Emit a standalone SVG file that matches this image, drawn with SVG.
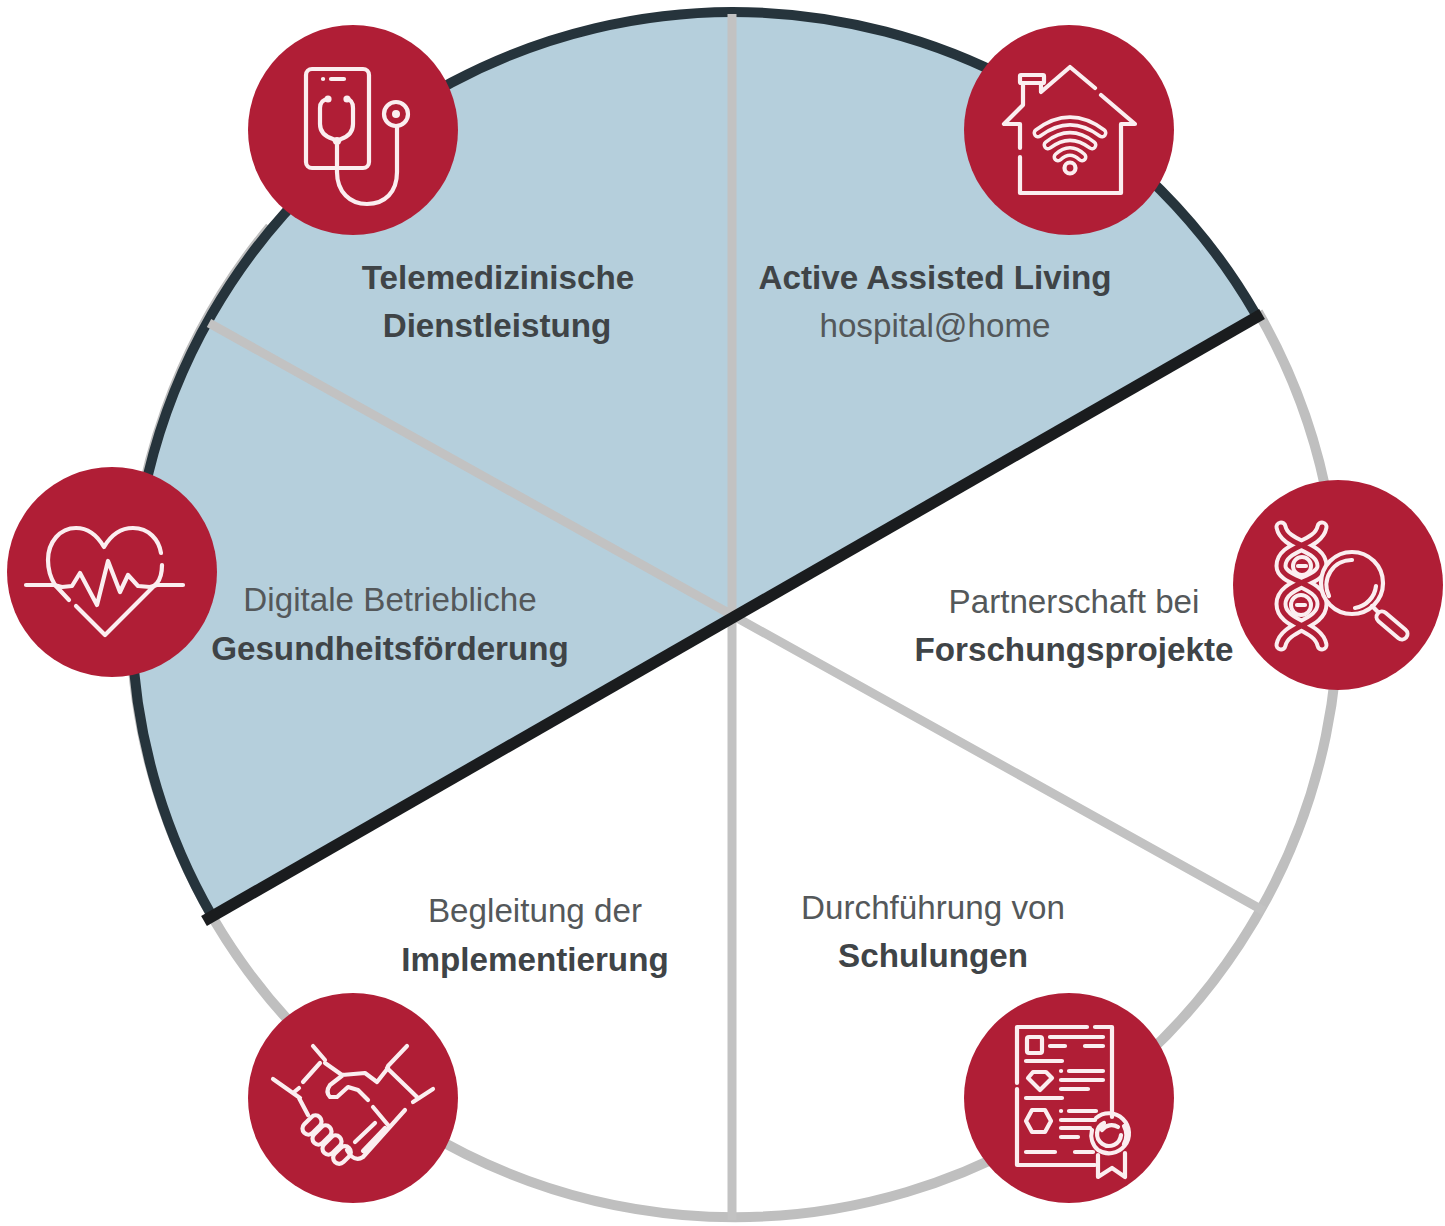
<svg xmlns="http://www.w3.org/2000/svg" width="1445" height="1226" viewBox="0 0 1445 1226">
<style>
.t{font-family:"Liberation Sans",Arial,sans-serif;font-size:33.2px;fill:#54585a;text-anchor:middle}
.b{font-weight:700;fill:#3f4447}
.n{fill:#b01e36}
.i{fill:none;stroke:#fbeef0;stroke-width:4.2;stroke-linecap:round;stroke-linejoin:round}
.w{fill:none;stroke:#fbeef0;stroke-width:13;stroke-linecap:round;stroke-linejoin:round}
.r{fill:none;stroke:#b01e36;stroke-width:5;stroke-linecap:round;stroke-linejoin:round}
.f{fill:#fbeef0}
</style>
<rect width="1445" height="1226" fill="#fff"/>
<g id="connectors">
<path d="M1258 312A604 604 0 1 1 270 227" fill="none" stroke="#bfbfbf" stroke-width="10"/>
<path d="M732 615L1255 313A604 604 0 0 0 732 12A603 603 0 0 0 212 916Z" fill="#b5cfdc"/>
<path d="M1255 313A604 604 0 0 0 732 12A603 603 0 0 0 212 916" fill="none" stroke="#26343c" stroke-width="10"/>
<path d="M732 615V14M732 615L209 323M732 615L1264 911M732 615V1220" fill="none" stroke="#c2c2c2" stroke-width="9"/>
<path d="M1262 314L204 921" fill="none" stroke="#1a1c1e" stroke-width="11.5"/>
</g>
<g id="node-telemedizin">
<circle class="n" cx="353" cy="130" r="105"/>
<rect class="i" x="306" y="69" width="63" height="99" rx="6"/>
<path class="i" d="M323 79h.1M331 79h13M328 99Q320 100 320 108V124Q320 135 333 139L337 142L341 139Q353 135 353 124V108Q353 100 347 99"/>
<circle class="f" cx="328" cy="99" r="3.6"/><circle class="f" cx="347" cy="99" r="3.6"/>
<circle class="f" cx="337" cy="141" r="4"/>
<path class="i" d="M337 145V172C337 192 350 204 367 204C385 204 397 192 397 172V127"/>
<circle class="i" cx="396" cy="114" r="12"/><circle class="f" cx="396" cy="114" r="4"/>
</g>
<g id="node-aal">
<circle class="n" cx="1069" cy="130" r="105"/>
<path class="i" d="M1095 88L1070 67L1041 92V83H1023V105L1004 124H1020V148M1020 157V193H1121V124H1135L1101 95"/>
<rect class="i" x="1020" y="75" width="24" height="8" rx="1"/>
<path class="w" d="M1038 133Q1070 109 1102 133M1048 145Q1070 128 1092 145M1058 157Q1070 146 1082 157" style="stroke-width:11"/>
<path class="r" d="M1038 133Q1070 109 1102 133M1048 145Q1070 128 1092 145M1058 157Q1070 146 1082 157" style="stroke-width:4"/>
<circle class="i" cx="1070" cy="168" r="5.5"/>
</g>
<g id="node-dbg">
<circle class="n" cx="112" cy="572" r="105"/>
<path class="i" d="M26 585H54L62 587L72 586L80 573L97 605L108 561L120 592L128 575L138 586L150 587L157 585H183"/>
<path class="i" d="M69 600L55 585C50 577 48 568 48 560C48 542 60 528 76 528C87 528 97 535 104 547C111 535 121 528 133 528C149 528 159 540 161 553M162 565C162 572 161 578 157 583L105 635L76 606"/>
</g>
<g id="node-forschung">
<circle class="n" cx="1338" cy="585" r="105"/>
<path class="w" d="M1281 527C1285 547 1322 545 1322 566C1322 582 1281 582 1281 604C1281 625 1318 625 1322 645M1322 527C1318 547 1281 545 1281 566C1281 582 1322 582 1322 604C1322 625 1285 625 1281 645"/>
<path class="r" d="M1281 527C1285 547 1322 545 1322 566C1322 582 1281 582 1281 604C1281 625 1318 625 1322 645M1322 527C1318 547 1281 545 1281 566C1281 582 1322 582 1322 604C1322 625 1285 625 1281 645"/>
<circle cx="1302" cy="566" r="9" fill="#b01e36" stroke="#fbeef0" stroke-width="4"/><path class="i" d="M1298 566h8"/>
<circle cx="1301" cy="605" r="10" fill="#b01e36" stroke="#fbeef0" stroke-width="4"/><path class="i" d="M1297 605h8"/>
<circle cx="1352" cy="583" r="31" fill="#b01e36" stroke="#fbeef0" stroke-width="4.2"/>
<path class="i" d="M1329 596A25 25 0 0 1 1352 560M1376 586A25 25 0 0 1 1355 608"/>
<path class="i" d="M1372 606L1380 614"/>
<path class="w" d="M1382 617L1402 634" style="stroke-width:15"/>
<path class="r" d="M1382 617L1402 634" style="stroke-width:7"/>
</g>
<g id="node-implementierung">
<circle class="n" cx="353" cy="1098" r="105"/>
<path class="i" d="M273 1079L300 1098M293 1093L299 1088M299 1098L308 1115M313 1046L325 1060M320 1063L303 1082M407 1046L388 1066M387 1068L417 1097M433 1089L413 1102"/>
<path class="i" d="M325 1063L342 1075L365 1073L377 1082L388 1068M343 1075L330 1085Q325 1092 330 1097H337L348 1087L358 1090L368 1100M373 1107L388 1125M405 1110L363 1157Q357 1161 351 1156L347 1150M375 1123L355 1142M385 1128L363 1151"/>
<g class="i">
<rect x="-11" y="-6" width="22" height="12" rx="6" transform="translate(312 1125) rotate(-45)"/>
<rect x="-11" y="-6" width="22" height="12" rx="6" transform="translate(322 1135) rotate(-45)"/>
<rect x="-11" y="-6" width="22" height="12" rx="6" transform="translate(332 1145) rotate(-45)"/>
<rect x="-10" y="-6" width="20" height="12" rx="6" transform="translate(342 1155) rotate(-45)"/>
</g>
</g>
<g id="node-schulungen">
<circle class="n" cx="1069" cy="1098" r="105"/>
<path class="i" d="M1087 1027H1017V1083M1017 1089V1165H1095M1095 1027H1112V1117"/>
<rect class="i" x="1027" y="1037" width="15" height="16" rx="2"/>
<path class="i" d="M1050 1037H1103M1050 1046H1065M1085 1046H1103M1026 1061H1062M1061 1071h.1M1069 1071H1103M1061 1080H1103M1061 1089H1088M1026 1098H1062M1061 1111h.1M1069 1111H1096M1061 1120H1095M1061 1128H1090M1061 1137H1078M1026 1152H1055M1075 1152H1093"/>
<path class="i" d="M1033 1072H1046L1052 1078L1040 1090L1028 1078Z"/>
<path class="i" d="M1032 1110H1045L1051 1121L1045 1132H1032L1026 1121Z"/>
<path class="i" d="M1096 1118A20 20 0 1 1 1098 1150A20 20 0 0 1 1092 1130M1124 1126A19 19 0 0 1 1124 1144"/>
<path class="i" d="M1104 1123A12 12 0 1 0 1121 1135M1118 1127A12 12 0 0 0 1102 1130M1098 1155V1177L1112 1168L1125 1177V1153"/>
</g>
<g id="labels">
<text class="t b" x="498" y="288.7">Telemedizinische</text>
<text class="t b" x="497" y="336.7">Dienstleistung</text>
<text class="t b" x="935" y="288.7">Active Assisted Living</text>
<text class="t" x="935" y="336.7">hospital@home</text>
<text class="t" x="390" y="610.7">Digitale Betriebliche</text>
<text class="t b" x="390" y="659.7">Gesundheitsförderung</text>
<text class="t" x="1074" y="612.7">Partnerschaft bei</text>
<text class="t b" x="1074" y="660.7">Forschungsprojekte</text>
<text class="t" x="535" y="921.7">Begleitung der</text>
<text class="t b" x="535" y="970.7">Implementierung</text>
<text class="t" x="933" y="918.7">Durchführung von</text>
<text class="t b" x="933" y="966.7">Schulungen</text>
</g>
</svg>
